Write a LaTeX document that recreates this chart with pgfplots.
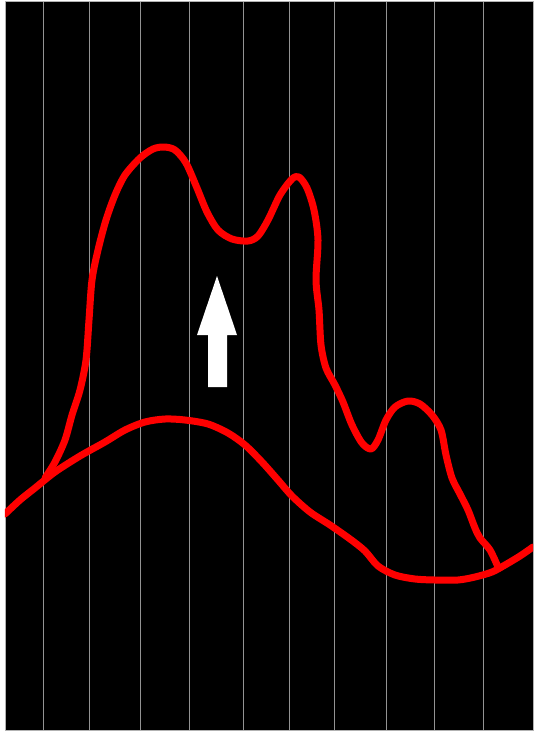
\documentclass[border=0pt]{standalone}
\usepackage{pgfplots}
\pgfplotsset{compat=1.18}

\begin{document}
\begin{tikzpicture}
\begin{axis}[
    at={(5pt,1pt)},
    anchor=south west,
    x=1pt, y=1pt,
    xmin=5, xmax=533,
    ymin=1, ymax=730,
    y dir=reverse,
    axis background/.style={fill=black},
    axis line style={gray!60!white, line width=0.8pt},
    xtick={43,89,140,189,243,289,334,386,434,483},
    ytick=\empty,
    xticklabels={},
    major tick length=0pt,
    xmajorgrids,
    grid style={gray!85!white, line width=1pt},
    clip=true,
]
% white arrow
\addplot[fill=white, draw=none] coordinates {
    (208,387) (227,387) (227,335) (237,335) (217,276) (197,335) (208,335) (208,387)
};
% lower curve
\addplot[red, line width=7pt, smooth, tension=0.5, line cap=round, line join=round] coordinates {
    (5,514) (20,500) (35,488) (55,472) (80,456) (105,442) (125,430) (145,422)
    (165,419) (185,420) (208,424) (228,433) (245,445) (262,462) (278,480)
    (292,496) (310,512) (330,525) (350,539) (365,551) (378,566) (395,575)
    (415,579) (435,580) (458,580) (475,577) (492,572) (505,565) (520,556) (533,547)
};
% upper curve
\addplot[red, line width=7pt, smooth, tension=0.5, line cap=round, line join=round] coordinates {
    (45,478) (55,462) (65,440) (72,415) (80,390) (86,360) (89,320) (92,280)
    (98,250) (106,220) (115,195) (125,175) (140,158) (153,149) (164,147)
    (175,150) (186,163) (197,188) (207,212) (218,230) (232,239) (248,241)
    (258,236) (268,220) (280,195) (292,179) (299,177) (307,188) (314,210)
    (318,240) (316,280) (319,310) (321,345) (326,368) (335,385) (343,402)
    (352,425) (362,443) (371,449) (378,440) (386,420) (395,407) (408,401)
    (420,404) (432,415) (441,430) (446,455) (452,478) (460,494) (468,510)
    (475,528) (480,538) (490,550) (498,567)
};
\end{axis}
\pgfresetboundingbox
\path[use as bounding box] (0,0) rectangle (533pt,731pt);
\end{tikzpicture}
\end{document}
